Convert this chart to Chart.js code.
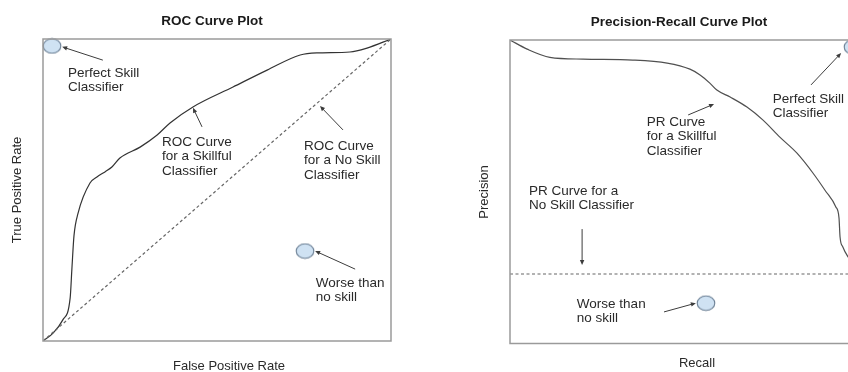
<!DOCTYPE html>
<html>
<head>
<meta charset="utf-8">
<script src="https://cdn.jsdelivr.net/npm/chart.js@4"></script>
<style>
    html, body { margin: 0; padding: 0; background: #fff; overflow: hidden; width: 848px; height: 372px; }
    #roc-wrap { position: absolute; left: 0; top: 0; }
    #pr-wrap { position: absolute; left: 424px; top: 0; }
</style>
</head>
<body>
<div id="roc-wrap"><canvas id="roc-chart" width="424" height="372"></canvas></div>
<div id="pr-wrap"><canvas id="pr-chart" width="460" height="372"></canvas></div>
<script>
// ROC curve
const rocFpr = [0, 0.029, 0.057, 0.078, 0.083, 0.089, 0.101, 0.135, 0.155, 0.178, 0.198, 0.221, 0.279, 0.328, 0.365, 0.431, 0.546, 0.644, 0.739, 0.787, 0.882, 0.931, 1];
const rocTpr = [0, 0.026, 0.070, 0.142, 0.238, 0.348, 0.424, 0.523, 0.543, 0.560, 0.576, 0.606, 0.642, 0.682, 0.722, 0.775, 0.841, 0.897, 0.947, 0.954, 0.957, 0.970, 1];
const rocNoSkillFpr = [0, 1];
const rocNoSkillTpr = [0, 1];
const rocMarkerFpr = [0.026, 0.753];
const rocMarkerTpr = [0.977, 0.298];

// Precision-recall curve
const prRecall = [0, 0.049, 0.114, 0.209, 0.351, 0.449, 0.514, 0.543, 0.571, 0.591, 0.629, 0.677, 0.723, 0.771, 0.820, 0.866, 0.900, 0.931, 0.940, 0.943, 0.951, 0.966, 1];
const prPrecision = [1, 0.970, 0.943, 0.937, 0.934, 0.924, 0.904, 0.885, 0.858, 0.835, 0.812, 0.779, 0.736, 0.680, 0.627, 0.561, 0.505, 0.450, 0.414, 0.351, 0.318, 0.285, 0.236];
const prNoSkillRecall = [0, 1];
const prNoSkillPrecision = [0.229, 0.229];
const prMarkerRecall = [0.98, 0.56];
const prMarkerPrecision = [0.977, 0.133];

// annotation text and arrows, in data units
const rocNotes = [
    { x: 0.072, y: 0.887, lines: ["Perfect Skill", "Classifier"] },
    { x: 0.342, y: 0.659, lines: ["ROC Curve", "for a Skillful", "Classifier"] },
    { x: 0.750, y: 0.646, lines: ["ROC Curve", "for a No Skill", "Classifier"] },
    { x: 0.784, y: 0.192, lines: ["Worse than", "no skill"] }
];
const rocArrows = [
    [0.172, 0.930, 0.055, 0.974],
    [0.457, 0.709, 0.431, 0.772],
    [0.862, 0.699, 0.796, 0.778],
    [0.897, 0.238, 0.782, 0.298]
];
const prNotes = [
    { x: 0.391, y: 0.730, lines: ["PR Curve", "for a Skillful", "Classifier"] },
    { x: 0.751, y: 0.806, lines: ["Perfect Skill", "Classifier"] },
    { x: 0.054, y: 0.502, lines: ["PR Curve for a", "No Skill Classifier"] },
    { x: 0.191, y: 0.130, lines: ["Worse than", "no skill"] }
];
const prArrows = [
    [0.509, 0.753, 0.583, 0.789],
    [0.860, 0.852, 0.946, 0.957],
    [0.206, 0.377, 0.206, 0.259],
    [0.440, 0.104, 0.531, 0.133]
];

const FONT = "'Liberation Sans', Arial, sans-serif";

function toPoints(xs, ys) {
    return xs.map((x, i) => ({ x: x, y: ys[i] }));
}

// light blue ellipse used as the marker style
function makeMarker() {
    const c = document.createElement("canvas");
    c.width = 20;
    c.height = 17;
    const g = c.getContext("2d");
    g.beginPath();
    g.ellipse(10, 8.5, 8.8, 7.3, 0, 0, Math.PI * 2);
    g.fillStyle = "#cfe2f3";
    g.fill();
    g.lineWidth = 1.1;
    g.strokeStyle = "#6b7f94";
    g.stroke();
    return c;
}
const marker = makeMarker();

function drawArrow(ctx, x1, y1, x2, y2) {
    const a = Math.atan2(y2 - y1, x2 - x1);
    const len = 5, half = 2.2;
    ctx.beginPath();
    ctx.moveTo(x1, y1);
    ctx.lineTo(x2 - Math.cos(a) * 2, y2 - Math.sin(a) * 2);
    ctx.stroke();
    ctx.beginPath();
    ctx.moveTo(x2, y2);
    ctx.lineTo(x2 - len * Math.cos(a) + half * Math.sin(a), y2 - len * Math.sin(a) - half * Math.cos(a));
    ctx.lineTo(x2 - len * Math.cos(a) - half * Math.sin(a), y2 - len * Math.sin(a) + half * Math.cos(a));
    ctx.closePath();
    ctx.fill();
}

// box, titles, notes and arrows
const sketchPlugin = {
    id: "sketch",
    afterDraw(chart, args, opts) {
        const ctx = chart.ctx;
        const area = chart.chartArea;
        const xs = chart.scales.x, ys = chart.scales.y;
        ctx.save();

        ctx.strokeStyle = "#9a9a9a";
        ctx.lineWidth = 1.5;
        ctx.strokeRect(area.left, area.top, area.right - area.left, area.bottom - area.top);

        ctx.fillStyle = "#1a1a1a";
        ctx.textAlign = "center";
        ctx.textBaseline = "middle";
        ctx.font = "bold 13.5px " + FONT;
        ctx.fillText(opts.title, opts.titlePos[0], opts.titlePos[1]);

        ctx.fillStyle = "#2a2a2a";
        ctx.font = "13px " + FONT;
        ctx.fillText(opts.xLabel, opts.xLabelPos[0], opts.xLabelPos[1]);
        ctx.save();
        ctx.translate(opts.yLabelPos[0], opts.yLabelPos[1]);
        ctx.rotate(-Math.PI / 2);
        ctx.fillText(opts.yLabel, 0, 0);
        ctx.restore();

        ctx.textAlign = "left";
        ctx.font = "13.5px " + FONT;
        opts.notes.forEach(n => {
            const px = xs.getPixelForValue(n.x);
            const py = ys.getPixelForValue(n.y);
            n.lines.forEach((line, i) => ctx.fillText(line, px, py + i * 14.5));
        });

        ctx.strokeStyle = "#3c3c3c";
        ctx.fillStyle = "#3c3c3c";
        ctx.lineWidth = 1;
        opts.arrows.forEach(a => {
            drawArrow(ctx,
                xs.getPixelForValue(a[0]), ys.getPixelForValue(a[1]),
                xs.getPixelForValue(a[2]), ys.getPixelForValue(a[3]));
        });
        ctx.restore();
    }
};

function makeChart(canvasId, curve, noSkill, markers, padding, sketch, curveColor) {
    return new Chart(document.getElementById(canvasId).getContext("2d"), {
        type: "scatter",
        data: {
            datasets: [
                {
                    data: noSkill,
                    showLine: true,
                    borderColor: "#666666",
                    borderWidth: 1.2,
                    borderDash: [3, 2.5],
                    pointRadius: 0
                },
                {
                    data: curve,
                    showLine: true,
                    borderColor: curveColor,
                    borderWidth: 1.2,
                    cubicInterpolationMode: "monotone",
                    pointRadius: 0
                },
                {
                    data: markers,
                    pointStyle: marker,
                    pointRadius: 9,
                    clip: false
                }
            ]
        },
        options: {
            responsive: false,
            animation: false,
            layout: { padding: padding },
            scales: {
                x: { type: "linear", min: 0, max: 1, display: false },
                y: { type: "linear", min: 0, max: 1, display: false }
            },
            plugins: {
                legend: { display: false },
                tooltip: { enabled: false },
                sketch: sketch
            }
        },
        plugins: [sketchPlugin]
    });
}

makeChart("roc-chart",
    toPoints(rocFpr, rocTpr),
    toPoints(rocNoSkillFpr, rocNoSkillTpr),
    toPoints(rocMarkerFpr, rocMarkerTpr),
    { left: 43, top: 39, right: 33, bottom: 31 },
    {
        title: "ROC Curve Plot", titlePos: [212, 21],
        xLabel: "False Positive Rate", xLabelPos: [229, 366],
        yLabel: "True Positive Rate", yLabelPos: [17, 190],
        notes: rocNotes, arrows: rocArrows
    },
    "#333333");

makeChart("pr-chart",
    toPoints(prRecall, prPrecision),
    toPoints(prNoSkillRecall, prNoSkillPrecision),
    toPoints(prMarkerRecall, prMarkerPrecision),
    { left: 86, top: 40, right: 24, bottom: 28.5 },
    {
        title: "Precision-Recall Curve Plot", titlePos: [255, 22],
        xLabel: "Recall", xLabelPos: [273, 363],
        yLabel: "Precision", yLabelPos: [60, 192],
        notes: prNotes, arrows: prArrows
    },
    "#505050");
</script>
</body>
</html>
